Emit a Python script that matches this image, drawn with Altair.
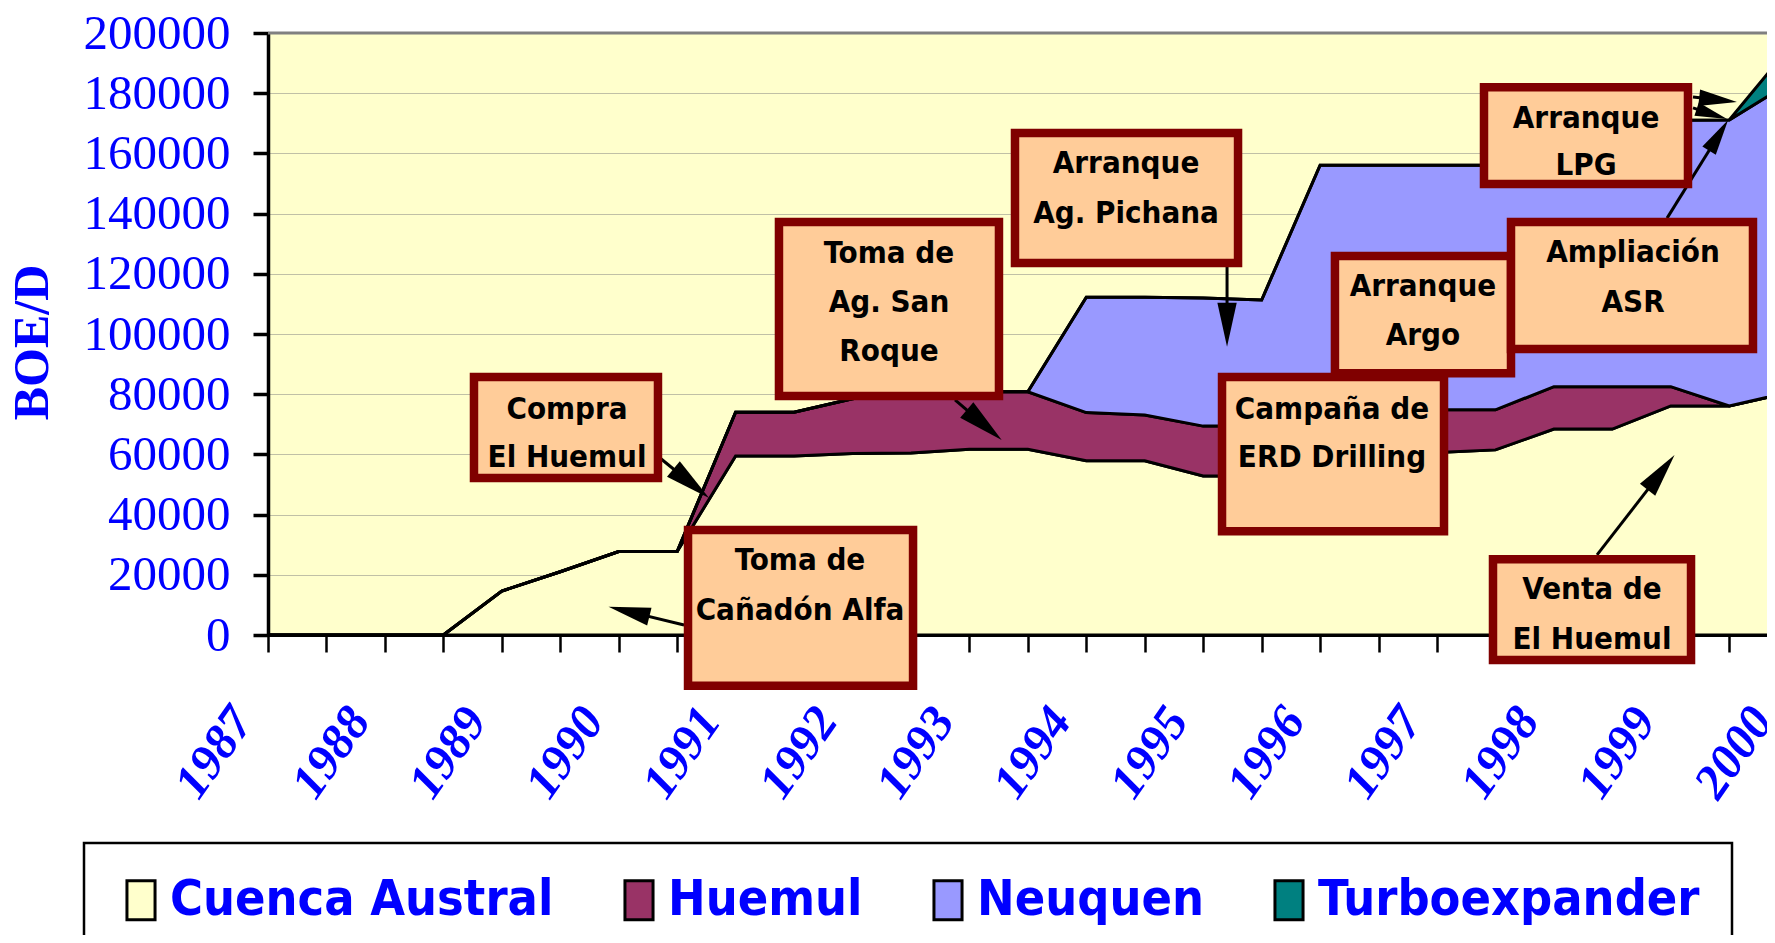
import math
import altair as alt
import pandas as pd

# ---------------- data ----------------
half_years = [1987.0 + 0.5 * i for i in range(27)]
series = ["Cuenca Austral", "Huemul", "Neuquen", "Turboexpander"]
colors = ["#FFFFCC", "#993366", "#9999FF", "#008080"]

cuenca_austral = [0, 0, 0, 0, 14600, 21000, 27700, 27700, 59500, 59500, 60300, 60500, 61700, 61700,
                  57900, 57900, 52800, 52800, 56000, 58000, 60600, 61500, 68400, 68400, 76100, 76100, 80500]
huemul = [0, 0, 0, 0, 0, 0, 0, 0, 14500, 14500, 18200, 20300, 19100, 19100,
          16000, 15200, 16600, 16600, 16000, 16000, 14200, 13300, 14100, 14100, 6400, 0, 0]
neuquen = [0] * 14 + [38300, 39100, 42600, 41900, 84100, 82100, 81300, 81300, 75500, 82500, 88500, 95000, 102600]
turboexpander = [0] * 26 + [11500]

y_ticks = list(range(0, 200001, 20000))

# annotation boxes (x1, x2 in years, y1, y2 in BOE/D)
box_x1 = [1988.762, 1990.593, 1991.371, 1993.390, 1995.161, 1996.127, 1997.633, 1997.402, 1997.479]
box_x2 = [1990.336, 1992.518, 1993.253, 1995.298, 1997.060, 1997.633, 1999.703, 1999.147, 1999.173]
box_y1 = [85700, 34900, 137200, 166800, 85700, 125900, 137200, 182000, 25200]
box_y2 = [52200, -16900, 79400, 123600, 34500, 87000, 95000, 149800, -8300]

# annotation text lines
label_text = ["Compra", "El Huemul",
              "Toma de", "Cañadón Alfa",
              "Toma de", "Ag. San", "Roque",
              "Arranque", "Ag. Pichana",
              "Campaña de", "ERD Drilling",
              "Arranque", "Argo",
              "Ampliación", "ASR",
              "Arranque", "LPG",
              "Venta de", "El Huemul"]
label_x = [1989.558, 1989.558,
           1991.551, 1991.551,
           1992.312, 1992.312, 1992.312,
           1994.340, 1994.340,
           1996.102, 1996.102,
           1996.880, 1996.880,
           1998.677, 1998.677,
           1998.275, 1998.275,
           1998.326, 1998.326]
label_y = [74700, 58800,
           24600, 8000,
           126600, 110300, 94000,
           156500, 139900,
           74700, 58800,
           115600, 99300,
           126900, 110300,
           171400, 155800,
           14900, -1700]

# arrows: start -> tip
arrow_sx = [1990.353, 1990.559, 1992.877, 1995.204, 1998.968, 1999.190, 1999.190, 1998.369]
arrow_sy = [58800, 3300, 78100, 122300, 138500, 178700, 175100, 26600]
arrow_tx = [1990.773, 1989.913, 1993.276, 1995.204, 1999.490, 1999.566, 1999.481, 1999.032]
arrow_ty = [45500, 9400, 64800, 95800, 171100, 177100, 171400, 59800]
arrow_head = [46, 42, 46, 44, 36, 38, 32, 44]

# ---------------- layout constants ----------------
X_RANGE = 1519.7
PLOT_W = 1499
PLOT_H = 602
PX_PER_YEAR = X_RANGE / 13.0
PX_PER_BOE = PLOT_H / 200000.0

SERIF = "Liberation Serif, Times New Roman, serif"
NARROW = "Liberation Sans Narrow, DejaVu Sans Condensed, sans-serif"
BLUE = "#0000FF"

rows = []
for k, (name, vals) in enumerate(zip(series, [cuenca_austral, huemul, neuquen, turboexpander])):
    for yr, v in zip(half_years, vals):
        rows.append({"year": yr, "boe": v, "serie": name, "k": k})
df = pd.DataFrame(rows)

xscale = alt.Scale(domain=[1987, 2000], range=[0, X_RANGE], nice=False, zero=False)
yscale = alt.Scale(domain=[0, 200000], nice=False)

xaxis = alt.Axis(
    values=half_years, title=None, grid=False, zindex=0,
    labelExpr="datum.value % 1 == 0 ? format(datum.value, 'd') : ''",
    labelAngle=305, labelAlign="right", labelBaseline="middle",
    labelFont=SERIF, labelFontSize=49, labelFontWeight="bold", labelFontStyle="italic",
    labelColor=BLUE, labelPadding=60, labelOffset=-26, labelOverlap=False, labelFlush=False,
    labelBound=False,
    domainColor="black", domainWidth=3, tickColor="black", tickWidth=2.5, tickSize=17,
)
yaxis = alt.Axis(
    values=y_ticks, format="d", title="BOE/D", grid=True, zindex=0,
    gridColor="#808080", gridDash=[1, 1], gridWidth=1,
    labelFont=SERIF, labelFontSize=49, labelColor=BLUE, labelPadding=23, labelFlush=False,
    domainColor="black", domainWidth=3.5, tickColor="black", tickWidth=3.5, tickSize=15,
    titleFont=SERIF, titleFontSize=50, titleFontWeight="bold", titleColor=BLUE,
    titleAngle=270, titleX=-236, titleY=309, titleAlign="center", titleBaseline="middle",
)

legend = alt.Legend(
    title=None, orient="none", legendX=-184, legendY=810, direction="horizontal",
    symbolType="M-0.72,-1L0.72,-1L0.72,1L-0.72,1Z", symbolSize=1521,
    symbolStrokeColor="black", symbolStrokeWidth=3, symbolOpacity=1,
    labelFont=NARROW, labelFontSize=50, labelFontWeight="bold", labelColor=BLUE,
    labelOffset=4, columnPadding=60, labelLimit=1000,
    padding=32, strokeColor="black", fillColor="white",
)


def X(field):
    return alt.X(field, scale=xscale, axis=xaxis)


def Y(field, **kw):
    return alt.Y(field, scale=yscale, axis=yaxis, **kw)


area = alt.Chart(df).mark_area(stroke="black", strokeWidth=3, strokeJoin="miter", fillOpacity=1).encode(
    x=X("year:Q"),
    y=Y("boe:Q", stack="zero"),
    color=alt.Color("serie:N", scale=alt.Scale(domain=series, range=colors), legend=legend),
    order=alt.Order("k:Q", sort="ascending"),
)

top_rule = alt.Chart(pd.DataFrame({"y": [200000]})).mark_rule(color="#808080", strokeWidth=3).encode(
    y=Y("y:Q")
)

# arrows
a_rows = []
for sx, sy, tx, ty, hl in zip(arrow_sx, arrow_sy, arrow_tx, arrow_ty, arrow_head):
    dx = (tx - sx) * PX_PER_YEAR
    dy = -(ty - sy) * PX_PER_BOE
    L = math.hypot(dx, dy)
    ux, uy = dx / L, dy / L
    r = hl / 2.0
    cx = tx - ux * r / PX_PER_YEAR
    cy = ty + uy * r / PX_PER_BOE
    ang = math.degrees(math.atan2(ux, -uy)) % 360
    a_rows.append({"sx": sx, "sy": sy, "ex": cx, "ey": cy, "cx": cx, "cy": cy,
                   "ang": ang, "sz": hl * hl})
adf = pd.DataFrame(a_rows)

shafts = alt.Chart(adf).mark_rule(color="black", strokeWidth=3).encode(
    x=X("sx:Q"), y=Y("sy:Q"), x2="ex:Q", y2="ey:Q",
)
heads = alt.Chart(adf).mark_point(
    filled=True, shape="M0,-1L0.44,1L-0.44,1Z", color="black", opacity=1, strokeWidth=0
).encode(
    x=X("cx:Q"), y=Y("cy:Q"),
    angle=alt.Angle("ang:Q", scale=None), size=alt.Size("sz:Q", scale=None),
)

bdf = pd.DataFrame({"x1": box_x1, "x2": box_x2, "y1": box_y1, "y2": box_y2})
boxes = alt.Chart(bdf).mark_rect(fill="#FFCC99", stroke="#800000", strokeWidth=8.5).encode(
    x=X("x1:Q"), x2="x2:Q", y=Y("y1:Q"), y2="y2:Q",
)

tdf = pd.DataFrame({"x": label_x, "y": label_y, "t": label_text})
texts = alt.Chart(tdf).mark_text(
    font=NARROW, fontSize=31, fontWeight="bold", color="black", align="center", baseline="middle"
).encode(
    x=X("x:Q"), y=Y("y:Q"), text="t:N",
)

chart = alt.layer(area, top_rule, shafts, heads, boxes, texts).properties(
    width=PLOT_W, height=PLOT_H,
    padding={"left": 260, "top": 25, "right": 0, "bottom": 300},
    autosize=alt.AutoSizeParams(type="none"),
    background="white",
).configure_view(stroke=None, fill="#FFFFCC").configure_legend(strokeWidth=2.5)

chart.save("out.html", embed_options={"renderer": "svg", "actions": False})
